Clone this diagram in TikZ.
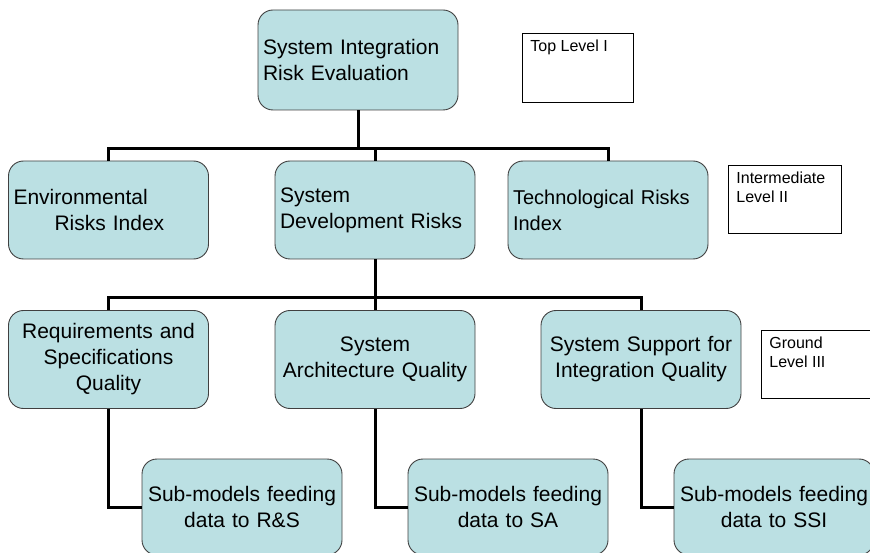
\documentclass[tikz,border=0pt]{standalone}
\usepackage{fontspec}
\setmainfont{Liberation Sans}
\usetikzlibrary{positioning}
\definecolor{riskfill}{RGB}{187,224,227}

\begin{document}
\begin{tikzpicture}[x=1pt,y=-1pt,
        riskbox/.style={draw=black!75,line width=0.9pt,fill=riskfill,rounded corners=15pt,
                minimum width=200pt,minimum height=98pt,inner xsep=5pt,text width=190pt,
                font=\fontsize{21}{26}\selectfont},
        levelbox/.style={draw,line width=0.8pt,fill=white,anchor=north west,
                inner xsep=8pt,inner ysep=7pt,font=\fontsize{16}{18.5}\selectfont},
        link/.style={line width=3pt}]
        \clip (0,0) rectangle (870,553);
        % top level
        \node[riskbox,align=left,minimum height=100pt] (sie) at (358,60) {System Integration\\Risk Evaluation};
        % intermediate level
        \node[riskbox,align=left] (env) at (108.5,210) {Environmental\\\hspace*{41pt}Risks Index};
        \node[riskbox,align=left] (sdr) at (375,210) {System\\Development Risks};
        \node[riskbox,align=left,font=\fontsize{20}{26}\selectfont] (tech) at (608,210) {Technological Risks\\Index};
        % ground level
        \node[riskbox,align=center] (rsq) at (108.5,359.5) {Requirements and\\Specifications\\Quality};
        \node[riskbox,align=center] (saq) at (375,359.5) {System\\Architecture Quality};
        \node[riskbox,align=center] (ssiq) at (641,359.5) {System Support for\\Integration Quality};
        % sub-models
        \node[riskbox,align=center,minimum height=96pt] (subrs) at (242,507) {Sub-models feeding\\data to R\&S};
        \node[riskbox,align=center,minimum height=96pt] (subsa) at (508,507) {Sub-models feeding\\data to SA};
        \node[riskbox,align=center,minimum height=96pt] (subssi) at (774,507) {Sub-models feeding\\data to SSI};
        % level labels
        \node[levelbox] (toplvl) at (522,33) {\parbox[t][55pt][t]{95pt}{Top Level I}};
        \node[levelbox] (midlvl) at (728,165) {\parbox[t][54pt][t]{97pt}{Intermediate\\Level II}};
        \node[levelbox] (gndlvl) at (761,330) {\parbox[t][54pt][t]{95pt}{Ground\\Level III}};
        % links
        \draw[link] (sie.south) -- ++(0,38) coordinate (j1);
        \draw[link] (env.north) |- (j1) -| (tech.north);
        \draw[link] (sdr.north) -- (sdr.north |- j1);
        \draw[link] (sdr.south) -- ++(0,38) coordinate (j2);
        \draw[link] (rsq.north) |- (j2) -| (ssiq.north);
        \draw[link] (saq.north) -- (j2);
        \draw[link] (rsq.south) |- (subrs.west);
        \draw[link] (saq.south) |- (subsa.west);
        \draw[link] (ssiq.south) |- (subssi.west);
\end{tikzpicture}
\end{document}
